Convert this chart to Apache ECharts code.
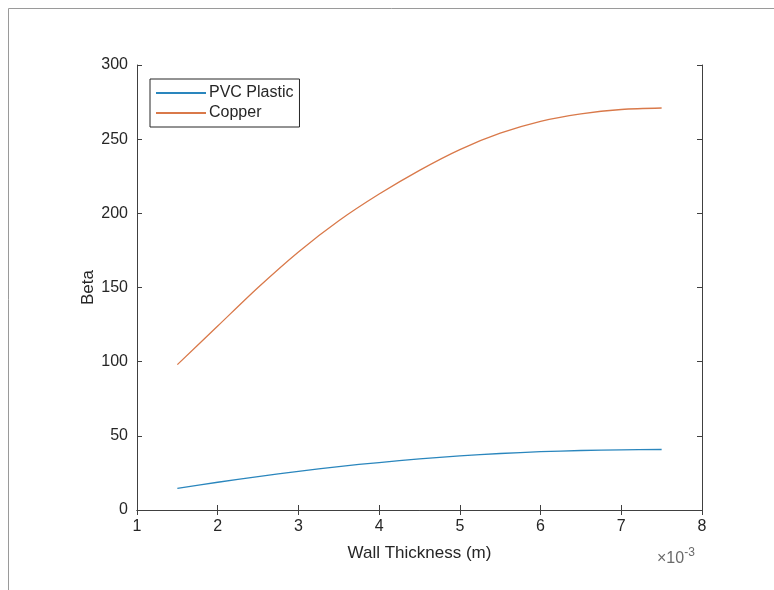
<!DOCTYPE html>
<html>
<head>
<meta charset="utf-8">
<script src="https://cdn.jsdelivr.net/npm/echarts@6/dist/echarts.min.js"></script>
<style>html,body{margin:0;padding:0;background:#fff;}#c{width:774px;height:590px;}</style>
</head>
<body>
<div id="c"></div>
<script>
// Wall thickness in units of 1e-3 m
var thickness = [1.5, 2, 2.5, 3, 3.5, 4, 4.5, 5, 5.5, 6, 6.5, 7, 7.5];
var betaPVC = [14.6, 18.7, 22.5, 26.1, 29.3, 32.0, 34.4, 36.5, 38.1, 39.3, 40.1, 40.6, 40.8];
var betaCopper = [98, 124, 150, 174, 195, 213, 229, 243, 254, 262, 267, 270, 271];
var xTicks = [1, 2, 3, 4, 5, 6, 7, 8];
var yTicks = [0, 50, 100, 150, 200, 250, 300];

function pairs(xs, ys) { return xs.map(function (x, i) { return [x, ys[i]]; }); }

var FONT = 'Liberation Sans, Arial, Helvetica, sans-serif';
var AX = '#404040';
var chart = echarts.init(document.getElementById('c'), null, {renderer: 'canvas'});
var axisCommon = {
  axisLine: {show: true, lineStyle: {color: AX, width: 1}},
  axisTick: {show: true, inside: true, length: 5, lineStyle: {color: AX}},
  splitLine: {show: false}
};
chart.setOption({
  backgroundColor: '#ffffff',
  animation: false,
  textStyle: {fontFamily: FONT},
  grid: {left: 137, right: 72, top: 65, bottom: 80, containLabel: false},
  legend: {
    orient: 'vertical', left: 150, top: 79,
    backgroundColor: '#fff', borderColor: '#262626', borderWidth: 1,
    padding: [6, 6, 6, 6], itemGap: 4, itemWidth: 50, itemHeight: 2, icon: 'rect',
    textStyle: {fontFamily: FONT, fontSize: 16, color: '#262626', lineHeight: 16, padding: [0,0,0,-2]},
    data: ['PVC Plastic', 'Copper']
  },
  xAxis: [
    Object.assign({
      type: 'value', position: 'bottom', min: 1, max: 8, interval: 1,
      name: 'Wall Thickness (m)', nameLocation: 'middle', nameGap: 35, nameMoveOverlap: false,
      nameTextStyle: {fontFamily: FONT, fontSize: 17, color: '#262626'},
      axisLabel: {fontFamily: FONT, fontSize: 16, color: '#262626', margin: 9,
        formatter: function (v) { return xTicks.indexOf(v) >= 0 ? String(v) : ''; }}
    }, axisCommon),
    Object.assign({
      type: 'value', position: 'top', min: 1, max: 8, interval: 1, axisLabel: {show: false}
    }, axisCommon)
  ],
  yAxis: [
    Object.assign({
      type: 'value', position: 'left', min: 0, max: 300, interval: 50,
      name: 'Beta', nameLocation: 'middle', nameGap: 40, nameRotate: 90, nameMoveOverlap: false,
      nameTextStyle: {fontFamily: FONT, fontSize: 17, color: '#262626'},
      axisLabel: {fontFamily: FONT, fontSize: 16, color: '#262626', margin: 9,
        formatter: function (v) { return yTicks.indexOf(v) >= 0 ? String(v) : ''; }}
    }, axisCommon),
    Object.assign({
      type: 'value', position: 'right', min: 0, max: 300, interval: 50, axisLabel: {show: false}
    }, axisCommon)
  ],
  series: [
    {name: 'PVC Plastic', type: 'line', data: pairs(thickness, betaPVC), smooth: 0.3,
     showSymbol: false, lineStyle: {color: '#2a86bd', width: 1.3}, itemStyle: {color: '#2a86bd'}},
    {name: 'Copper', type: 'line', data: pairs(thickness, betaCopper), smooth: 0.3,
     showSymbol: false, lineStyle: {color: '#d9794a', width: 1.3}, itemStyle: {color: '#d9794a'}}
  ],
  graphic: [
    {type: 'line', shape: {x1: 8.5, y1: 8.5, x2: 774, y2: 8.5}, style: {stroke: '#9a9a9a', lineWidth: 1}},
    {type: 'line', shape: {x1: 8.5, y1: 8.5, x2: 8.5, y2: 590}, style: {stroke: '#9a9a9a', lineWidth: 1}},
    {type: 'text', left: 657, top: 547, style: {
      text: '{a|×}{b|10}{c|-3}', rich: {
        a: {fontFamily: FONT, fontSize: 16, fill: '#6a6a6a', verticalAlign: 'bottom'},
        b: {fontFamily: FONT, fontSize: 16, fill: '#6a6a6a', verticalAlign: 'bottom'},
        c: {fontFamily: FONT, fontSize: 12, fill: '#6a6a6a', verticalAlign: 'top', padding: [0,0,8,0]}
      }}}
  ]
});
</script>
</body>
</html>
